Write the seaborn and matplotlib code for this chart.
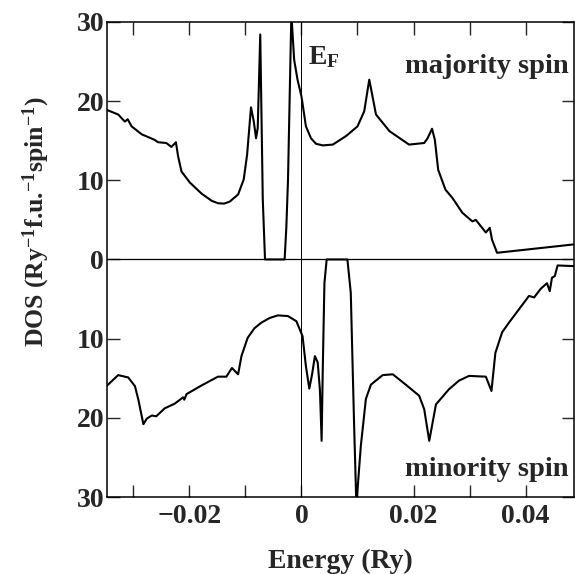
import numpy as np
import pandas as pd
import matplotlib
matplotlib.use("Agg")
import matplotlib.pyplot as plt
import seaborn as sns
from matplotlib.ticker import MultipleLocator

# Majority spin DOS (plotted upward)
maj_energy = [-0.0348, -0.0327, -0.0315, -0.0310, -0.0303, -0.0285, -0.0262, -0.0256, -0.0241,
              -0.0232, -0.0224, -0.0220, -0.0214, -0.0199, -0.0178, -0.0160, -0.0149, -0.0138,
              -0.0128, -0.0113, -0.0103, -0.0097, -0.0090, -0.0085, -0.0081, -0.0078, -0.00735,
              -0.0069, -0.0065, -0.0030, -0.0027, -0.0024, -0.0018, -0.0013, -0.0007, 0.0,
              0.0008, 0.0017, 0.0026, 0.0038, 0.0056, 0.0080, 0.0100, 0.0112, 0.0121, 0.0133,
              0.0157, 0.0192, 0.0219, 0.0225, 0.0233, 0.0238, 0.0244, 0.0257, 0.0269, 0.0287,
              0.0305, 0.0311, 0.0329, 0.0336, 0.0340, 0.0349, 0.0486]
maj_dos = [18.9, 18.3, 17.4, 17.7, 16.8, 15.8, 15.1, 14.8, 14.7,
           14.2, 14.8, 13.0, 11.1, 9.7, 8.3, 7.4, 7.1, 7.05,
           7.3, 8.2, 10.1, 13.2, 19.2, 17.4, 15.3, 16.6, 28.4,
           7.6, 0.0, 0.0, 4.0, 10.0, 31.0, 25.2, 22.7, 20.6,
           16.8, 15.3, 14.6, 14.4, 14.5, 15.6, 16.8, 18.7, 22.7, 18.3,
           16.2, 14.5, 14.7, 15.3, 16.5, 15.1, 11.3, 8.8, 7.8, 5.9,
           4.8, 5.0, 3.4, 4.0, 2.5, 0.84, 1.9]

# Minority spin DOS (plotted downward)
min_energy = [-0.0348, -0.0327, -0.0309, -0.0297, -0.0291, -0.0282, -0.0276, -0.0267, -0.0259,
              -0.0244, -0.0226, -0.0211, -0.0209, -0.0205, -0.0178, -0.0149, -0.0134, -0.0124,
              -0.0113, -0.0107, -0.0096, -0.0084, -0.0072, -0.0057, -0.0042, -0.0024, -0.0009,
              0.0002, 0.0008, 0.0014, 0.0019, 0.0024, 0.0029, 0.0033, 0.0036, 0.0038, 0.0041,
              0.0045, 0.0082, 0.0088, 0.0094, 0.0098, 0.0106, 0.0115, 0.0124, 0.0145, 0.0163,
              0.0186, 0.0210, 0.0219, 0.0228, 0.0240, 0.0263, 0.0281, 0.0299, 0.0329, 0.0339,
              0.0346, 0.0358, 0.0370, 0.0388, 0.0406, 0.0415, 0.0427, 0.0438, 0.0443, 0.0447,
              0.0452, 0.0457, 0.0486]
min_dos = [16.0, 14.6, 14.9, 16.0, 17.7, 20.8, 20.1, 19.7, 19.8,
           18.8, 18.2, 17.4, 17.7, 17.0, 15.9, 14.8, 14.8, 13.7,
           14.5, 12.2, 9.9, 8.7, 8.0, 7.4, 7.06, 7.15, 7.8,
           9.7, 13.5, 16.3, 14.5, 12.2, 13.0, 16.5, 22.9, 14.0, 3.0,
           0.0, 0.0, 4.2, 21.0, 31.0, 23.5, 17.6, 15.8, 14.6, 14.5,
           15.8, 17.2, 18.9, 22.9, 18.3, 16.4, 15.3, 14.7, 14.8, 16.6,
           11.8, 9.2, 8.0, 6.3, 4.6, 4.8, 3.7, 3.0, 4.0, 2.3,
           2.1, 0.76, 0.84]

x_ticks = [-0.02, 0.0, 0.02, 0.04]
x_tick_labels = ["\u22120.02", "0", "0.02", "0.04"]
y_ticks = [-30, -20, -10, 0, 10, 20, 30]
y_tick_labels = ["30", "20", "10", "0", "10", "20", "30"]

sns.set_style("ticks")
plt.rcParams['font.family'] = ['Liberation Serif', 'DejaVu Serif']
plt.rcParams['font.weight'] = 'bold'
plt.rcParams['mathtext.fontset'] = 'custom'
plt.rcParams['mathtext.rm'] = 'Liberation Serif:bold'
plt.rcParams['mathtext.bf'] = 'Liberation Serif:bold'
plt.rcParams['mathtext.it'] = 'Liberation Serif:bold'
plt.rcParams['mathtext.default'] = 'bf'

df_maj = pd.DataFrame({"Energy": maj_energy, "DOS": maj_dos})
df_min = pd.DataFrame({"Energy": min_energy, "DOS": [-v for v in min_dos]})

fig = plt.figure(figsize=(5.75, 5.74), dpi=100)
ax = fig.add_axes([0.186, 0.134, 0.812, 0.828])

ax.axhline(0, color="black", lw=0.9, zorder=1)
ax.axvline(0, color="black", lw=0.7, zorder=1)

sns.lineplot(data=df_maj, x="Energy", y="DOS", sort=False, estimator=None,
             color="black", lw=1.5, ax=ax)
sns.lineplot(data=df_min, x="Energy", y="DOS", sort=False, estimator=None,
             color="black", lw=1.5, ax=ax)

ax.set_xlim(-0.0347, 0.0486)
ax.set_ylim(-30, 30)
ax.set_xticks(x_ticks)
ax.set_xticklabels(x_tick_labels)
ax.xaxis.set_minor_locator(MultipleLocator(0.01))
ax.set_yticks(y_ticks)
ax.set_yticklabels(y_tick_labels)

ax.tick_params(which="both", direction="in", top=True, right=True, length=9, width=1.0,
               labelsize=20, pad=2)
ax.tick_params(axis="x", pad=5)
for lab in ax.get_xticklabels() + ax.get_yticklabels():
    lab.set_fontweight("bold")

for s in ax.spines.values():
    s.set_linewidth(1.1)
    s.set_color("black")

ax.set_xlabel("Energy (Ry)", fontsize=20, fontweight="bold", labelpad=14)
ax.set_ylabel("DOS (Ry$^{-1}$f.u.$^{-1}$spin$^{-1}$)", fontsize=18.5, fontweight="bold")
ax.yaxis.set_label_coords(-0.118, 0.579)

ax.text(0.0011, 24.7, "E$_\\mathbf{F}$", fontsize=20, fontweight="bold")
ax.text(0.0477, 23.5, "majority spin", fontsize=20.5, fontweight="bold", ha="right")
ax.text(0.0477, -27.4, "minority spin", fontsize=20.5, fontweight="bold", ha="right")

fig.savefig("out.png", dpi=100)
